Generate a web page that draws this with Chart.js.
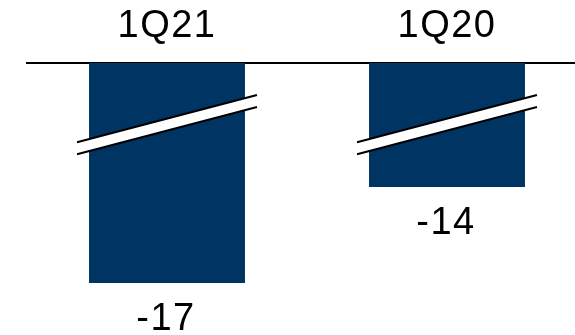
<!DOCTYPE html>
<html>
<head>
<meta charset="utf-8">
<script src="https://cdn.jsdelivr.net/npm/chart.js@4"></script>
<style>
  html, body { margin: 0; padding: 0; overflow: hidden; background: #fff; }
  #wrap { width: 600px; height: 335px; position: relative; }
</style>
</head>
<body>
<div id="wrap"><canvas id="c"></canvas></div>
<script>
const categories = ['1Q21', '1Q20'];
const values = [-17, -14];
const valueLabels = ['-17', '-14'];
const breakValue = -12.05;

const barColor = '#003462';
const fontFamily = '"Liberation Sans", Arial, sans-serif';

const spacingPlugin = {
  id: 'spacing',
  beforeDraw(chart) {
    if ('letterSpacing' in chart.ctx) chart.ctx.letterSpacing = '1.5px';
  }
};

const breakPlugin = {
  id: 'breaks',
  afterDatasetsDraw(chart) {
    const ctx = chart.ctx;
    const meta = chart.getDatasetMeta(0);
    const yScale = chart.scales.y;
    const yc = yScale.getPixelForValue(breakValue);
    const slope = -47 / 179;
    const gap = 12;
    meta.data.forEach((bar) => {
      const half = bar.width / 2 + 12;
      const x0 = bar.x - half, x1 = bar.x + half;
      const yU0 = yc - gap / 2 - slope * half, yU1 = yc - gap / 2 + slope * half;
      const yL0 = yU0 + gap, yL1 = yU1 + gap;
      ctx.save();
      ctx.fillStyle = '#ffffff';
      ctx.beginPath();
      ctx.moveTo(x0, yU0); ctx.lineTo(x1, yU1); ctx.lineTo(x1, yL1); ctx.lineTo(x0, yL0);
      ctx.closePath(); ctx.fill();
      ctx.strokeStyle = '#000000';
      ctx.lineWidth = 2.2;
      ctx.beginPath(); ctx.moveTo(x0, yU0); ctx.lineTo(x1, yU1); ctx.stroke();
      ctx.beginPath(); ctx.moveTo(x0, yL0); ctx.lineTo(x1, yL1); ctx.stroke();
      ctx.restore();
    });
    ctx.save();
    ctx.fillStyle = '#000000';
    ctx.font = '38px ' + fontFamily;
    ctx.textAlign = 'center';
    ctx.textBaseline = 'alphabetic';
    meta.data.forEach((bar, i) => {
      ctx.fillText(valueLabels[i], bar.x - 1, bar.y + 47);
    });
    ctx.restore();
  }
};

new Chart(document.getElementById('c'), {
  type: 'bar',
  data: {
    labels: categories,
    datasets: [{
      data: values,
      backgroundColor: barColor,
      borderWidth: 0,
      categoryPercentage: 1,
      barPercentage: 0.557,
      clip: 0
    }]
  },
  options: {
    responsive: true,
    maintainAspectRatio: false,
    animation: false,
    layout: { padding: { left: 27, right: 13, top: 0, bottom: 0 } },
    plugins: { legend: { display: false }, tooltip: { enabled: false } },
    scales: {
      x: {
        position: 'top',
        grid: { display: false, drawTicks: false },
        border: { display: true, color: '#000000', width: 2 },
        ticks: { color: '#000000', font: { family: fontFamily, size: 38 }, padding: 14 },
        afterFit(scale) { scale.height = 63; }
      },
      y: {
        display: false,
        min: -18.625,
        max: -10.125
      }
    }
  },
  plugins: [spacingPlugin, breakPlugin]
});
</script>
</body>
</html>
